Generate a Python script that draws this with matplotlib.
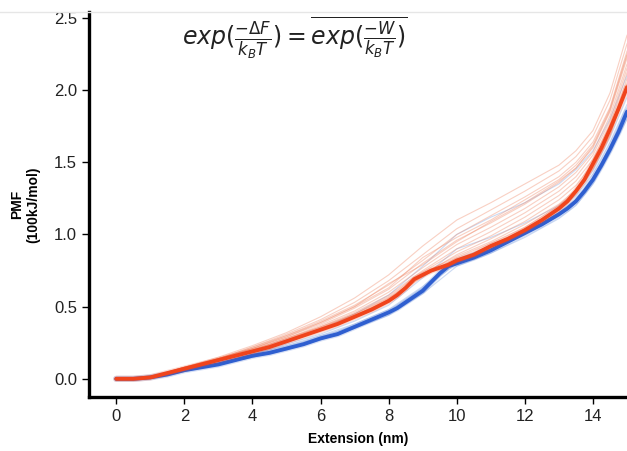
import numpy as np
import matplotlib
matplotlib.use("Agg")
import matplotlib.pyplot as plt
from matplotlib.lines import Line2D

plt.rcParams['font.family'] = ['Liberation Sans', 'DejaVu Sans']
plt.rcParams['mathtext.fontset'] = 'dejavusans'

# mean PMF curves
x_mean = [0, 0.5, 1, 1.5, 2, 2.5, 3, 3.5, 4, 4.5, 5, 5.5, 6, 6.5, 7, 7.5,
          8, 8.25, 8.5, 8.75, 9, 9.25, 9.5, 9.75, 10, 10.5, 11, 11.5, 12, 12.5,
          13, 13.25, 13.5, 13.75, 14, 14.25, 14.5, 14.75, 15]
blue_mean = [0, 0.0, 0.01, 0.03, 0.06, 0.08, 0.10, 0.13, 0.16, 0.18, 0.21, 0.24,
             0.28, 0.31, 0.36, 0.41, 0.46, 0.49, 0.53, 0.57, 0.61, 0.67, 0.73, 0.78,
             0.80, 0.84, 0.89, 0.95, 1.01, 1.07, 1.14, 1.18, 1.23, 1.30, 1.38,
             1.48, 1.59, 1.71, 1.85]
red_mean = [0, 0.0, 0.01, 0.04, 0.07, 0.10, 0.13, 0.16, 0.19, 0.22, 0.26, 0.30,
            0.34, 0.38, 0.43, 0.48, 0.54, 0.58, 0.63, 0.69, 0.72, 0.75, 0.77, 0.79,
            0.82, 0.86, 0.92, 0.97, 1.03, 1.10, 1.18, 1.23, 1.30, 1.38, 1.49,
            1.60, 1.73, 1.87, 2.02]

# individual pulls
x_runs = [0, 1, 2, 3, 4, 5, 6, 7, 8, 9, 10, 11, 12, 13, 13.5, 14, 14.5, 15]
red_runs = [
    [0, 0.01, 0.08, 0.15, 0.23, 0.32, 0.43, 0.56, 0.72, 0.92, 1.10, 1.22, 1.35, 1.48, 1.58, 1.72, 1.98, 2.38],
    [0, 0.01, 0.08, 0.14, 0.22, 0.31, 0.41, 0.53, 0.68, 0.86, 1.04, 1.17, 1.30, 1.44, 1.54, 1.68, 1.93, 2.32],
    [0, 0.01, 0.07, 0.14, 0.21, 0.30, 0.40, 0.51, 0.65, 0.82, 1.00, 1.13, 1.26, 1.40, 1.50, 1.64, 1.88, 2.27],
    [0, 0.01, 0.07, 0.13, 0.21, 0.29, 0.38, 0.49, 0.62, 0.80, 0.96, 1.08, 1.21, 1.36, 1.46, 1.60, 1.85, 2.22],
    [0, 0.01, 0.07, 0.14, 0.20, 0.28, 0.37, 0.47, 0.60, 0.77, 0.93, 1.05, 1.18, 1.33, 1.43, 1.57, 1.82, 2.18],
    [0, 0.01, 0.08, 0.13, 0.20, 0.28, 0.36, 0.46, 0.58, 0.75, 0.90, 1.02, 1.15, 1.30, 1.40, 1.55, 1.79, 2.15],
    [0, 0.01, 0.07, 0.13, 0.20, 0.27, 0.36, 0.45, 0.57, 0.74, 0.88, 0.99, 1.12, 1.27, 1.37, 1.52, 1.76, 2.12],
    [0, 0.01, 0.07, 0.13, 0.19, 0.27, 0.35, 0.45, 0.56, 0.72, 0.86, 0.97, 1.09, 1.24, 1.34, 1.49, 1.72, 2.08],
    [0, 0.01, 0.07, 0.13, 0.19, 0.26, 0.35, 0.44, 0.55, 0.73, 0.85, 0.95, 1.07, 1.21, 1.31, 1.46, 1.69, 2.05],
    [0, 0.01, 0.07, 0.13, 0.19, 0.26, 0.34, 0.44, 0.54, 0.71, 0.84, 0.94, 1.05, 1.20, 1.30, 1.45, 1.68, 2.03],
    [0, 0.01, 0.07, 0.14, 0.21, 0.29, 0.39, 0.50, 0.63, 0.84, 0.98, 1.10, 1.24, 1.38, 1.48, 1.62, 1.87, 2.25],
    [0, 0.01, 0.08, 0.14, 0.22, 0.30, 0.39, 0.50, 0.66, 0.79, 0.95, 1.09, 1.22, 1.37, 1.46, 1.61, 1.86, 2.24],
]
blue_runs = [
    [0, 0.01, 0.06, 0.10, 0.15, 0.21, 0.28, 0.36, 0.46, 0.62, 0.80, 0.89, 1.00, 1.13, 1.22, 1.37, 1.58, 1.85],
    [0, 0.01, 0.06, 0.11, 0.17, 0.23, 0.30, 0.38, 0.48, 0.64, 0.83, 0.92, 1.03, 1.17, 1.27, 1.42, 1.64, 1.90],
    [0, 0.01, 0.05, 0.10, 0.15, 0.20, 0.27, 0.35, 0.44, 0.59, 0.78, 0.87, 0.98, 1.11, 1.20, 1.35, 1.56, 1.80],
    [0, 0.01, 0.07, 0.12, 0.18, 0.25, 0.34, 0.45, 0.58, 0.78, 1.00, 1.12, 1.22, 1.35, 1.45, 1.58, 1.80, 2.10],
    [0, 0.01, 0.06, 0.11, 0.16, 0.22, 0.29, 0.37, 0.47, 0.63, 0.81, 0.90, 1.01, 1.15, 1.24, 1.39, 1.61, 1.88],
    [0, 0.01, 0.06, 0.11, 0.17, 0.24, 0.31, 0.40, 0.51, 0.70, 0.90, 0.98, 1.08, 1.20, 1.29, 1.44, 1.67, 1.95],
]

fig = plt.figure(figsize=(6.27, 4.51), dpi=100)
ax = fig.add_axes([0.142, 0.12, 0.858, 0.853])

for run in blue_runs:
    ax.plot(x_runs, run, color='#7fa3e0', lw=0.8, alpha=0.4)
for run in red_runs:
    ax.plot(x_runs, run, color='#f08a6a', lw=0.8, alpha=0.4)

# thick means with a soft halo
ax.plot(x_mean, blue_mean, color='#2f5fd0', lw=4.5, alpha=0.2, solid_capstyle='round')
ax.plot(x_mean, blue_mean, color='#2f5fd0', lw=2.8, solid_capstyle='round')
ax.plot(x_mean, red_mean, color='#f0441c', lw=4.5, alpha=0.2, solid_capstyle='round')
ax.plot(x_mean, red_mean, color='#f0441c', lw=2.8, solid_capstyle='round')

ax.set_xlim(-0.8, 15)
ax.set_ylim(-0.125, 2.54)
ax.set_xticks([0, 2, 4, 6, 8, 10, 12, 14])
ax.set_yticks([0.0, 0.5, 1.0, 1.5, 2.0, 2.5])
ax.set_yticklabels(['0.0', '0.5', '1.0', '1.5', '2.0', '2.5'])

for s in ['top', 'right']:
    ax.spines[s].set_visible(False)
for s in ['left', 'bottom']:
    ax.spines[s].set_linewidth(2.4)
ax.tick_params(direction='out', length=5, width=1, labelsize=12, labelcolor='#222222')

ax.set_xlabel('Extension (nm)', fontsize=10, fontweight='bold', labelpad=6)
ax.set_ylabel('PMF\n(100kJ/mol)', fontsize=10, fontweight='bold', labelpad=10)

fig.text(0.47, 0.915, r'$exp(\frac{-\Delta F}{k_BT}) = \overline{exp(\frac{-W}{k_BT})}$',
         ha='center', va='center', fontsize=17, color='#222222')

# faint frame line at the top
fig.add_artist(Line2D([0, 1], [1 - 12 / 451, 1 - 12 / 451], color='#e6e6e6', lw=1))

fig.savefig('out.png', dpi=100)
